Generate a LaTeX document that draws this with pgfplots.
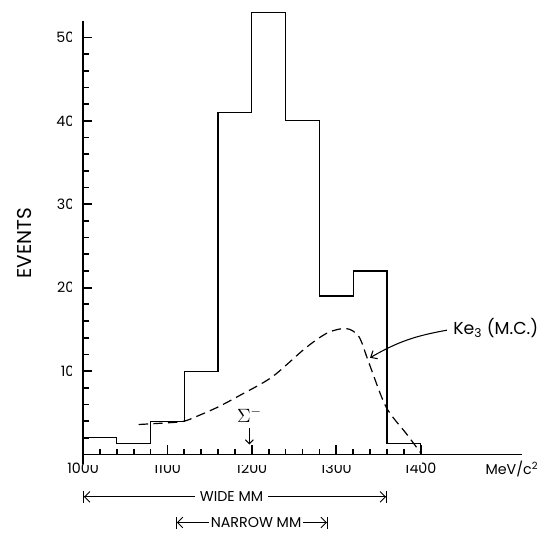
\documentclass[border=0pt]{standalone}
\usepackage{pgfplots}
\pgfplotsset{compat=1.18}
\usepackage{fontspec}
\setmainfont{Poppins}
\usetikzlibrary{arrows.meta}

% histogram (40 MeV bins, value held to the next edge)
\pgfplotstableread{
x     n
1000  2
1040  1.3
1080  4
1120  10
1160  41
1200  53
1240  40
1280  19
1320  22
1360  1.3
1400  0
}\histdata

% Ke3 Monte Carlo curve
\pgfplotstableread{
x     n
1066  3.6
1100  3.8
1120  4.0
1140  4.8
1160  5.7
1186  7.1
1224  9.3
1264  12.8
1290  14.6
1312  15.1
1327  14.1
1339  10.9
1359  5.7
1383  2.5
1400  0.2
}\mcdata

\newcommand{\lbl}{\fontsize{10.7}{12}\selectfont}

\begin{document}
\begin{tikzpicture}
\begin{axis}[
    name=ax,
    scale only axis,
    width=329.25pt, height=325.35pt,
    xmin=1000, xmax=1520,
    ymin=0, ymax=52,
    axis x line=bottom, axis y line=left,
    x axis line style={-, line width=0.9pt},
    y axis line style={-, line width=0.9pt},
    clip=false,
    xtick={1000,1100,...,1400},
    ytick={10,20,...,50},
    minor xtick={1020,1040,...,1380},
    minor ytick={2,4,...,48},
    major tick style={line width=1.3pt, color=black},
    minor tick style={line width=1.3pt, color=black},
    major tick length=14pt,
    minor tick length=9pt,
    xticklabel shift=-4pt,
    yticklabel shift=-4pt,
    scaled x ticks=false,
    /pgf/number format/1000 sep={},
    /pgf/number format/assume math mode=true,
    ticklabel style={font=\lbl},
    ylabel={EVENTS},
    ylabel style={at={(axis description cs:-0.133,0.487)}, anchor=center,
        font=\fontsize{15}{17}\selectfont},
]
\addplot[const plot mark left, line width=0.9pt, black] table[x=x, y=n] {\histdata};
\addplot[smooth, tension=0.5, line width=0.9pt, black,
    dash pattern=on 7pt off 4pt] table[x=x, y=n] {\mcdata};

% white strips hide the outer half of each centred tick
\fill[white] ([xshift=-0.45pt]axis cs:1000,0.5) rectangle ([xshift=-8pt]axis cs:1000,51);
\fill[white] ([yshift=-0.45pt]axis cs:1001,0) rectangle ([yshift=-8pt]axis cs:1401,0);

% unit
\node[anchor=base, font=\lbl] at (axis cs:1508,-2.45) {MeV/c\textsuperscript{2}};

% Sigma- marker
\node[font=\fontsize{14}{16}\selectfont] at (axis cs:1197,4.7) {$\Sigma^{-}$};
\draw[-{Straight Barb[length=3pt,width=6pt]}, line width=0.8pt]
    (axis cs:1197,3.2) -- (axis cs:1197,1.2);

% Ke3 label
\node[anchor=west, font=\fontsize{13}{15}\selectfont] at (axis cs:1433,15.2)
    {Ke\textsubscript{3} (M.C.)};
\draw[-{Straight Barb[length=4pt,width=7pt]}, line width=0.8pt]
    (axis cs:1431,14.9) to[out=190, in=30] (axis cs:1340,11.6);

% missing-mass windows
\draw[{Bar[width=9pt]Straight Barb[length=4pt,width=8pt]}-{Straight Barb[length=4pt,width=8pt]Bar[width=9pt]}, line width=0.7pt]
    (axis cs:1000,-5.08) -- (axis cs:1360,-5.08);
\node[fill=white, inner sep=3.4pt, font=\lbl] at (axis cs:1176,-5.08) {WIDE MM};
\draw[{Bar[width=9pt]Straight Barb[length=4pt,width=8pt]}-{Straight Barb[length=4pt,width=8pt]Bar[width=9pt]}, line width=0.7pt]
    (axis cs:1110,-8.15) -- (axis cs:1290,-8.15);
\node[fill=white, inner sep=1.5pt, font=\lbl] at (axis cs:1205,-8.15) {NARROW MM};
\end{axis}
\pgfresetboundingbox
\path ([shift={(-62.25pt,-65.6pt)}]ax.south west) rectangle ([shift={(345.75pt,340.9pt)}]ax.south west);
\end{tikzpicture}
\end{document}
